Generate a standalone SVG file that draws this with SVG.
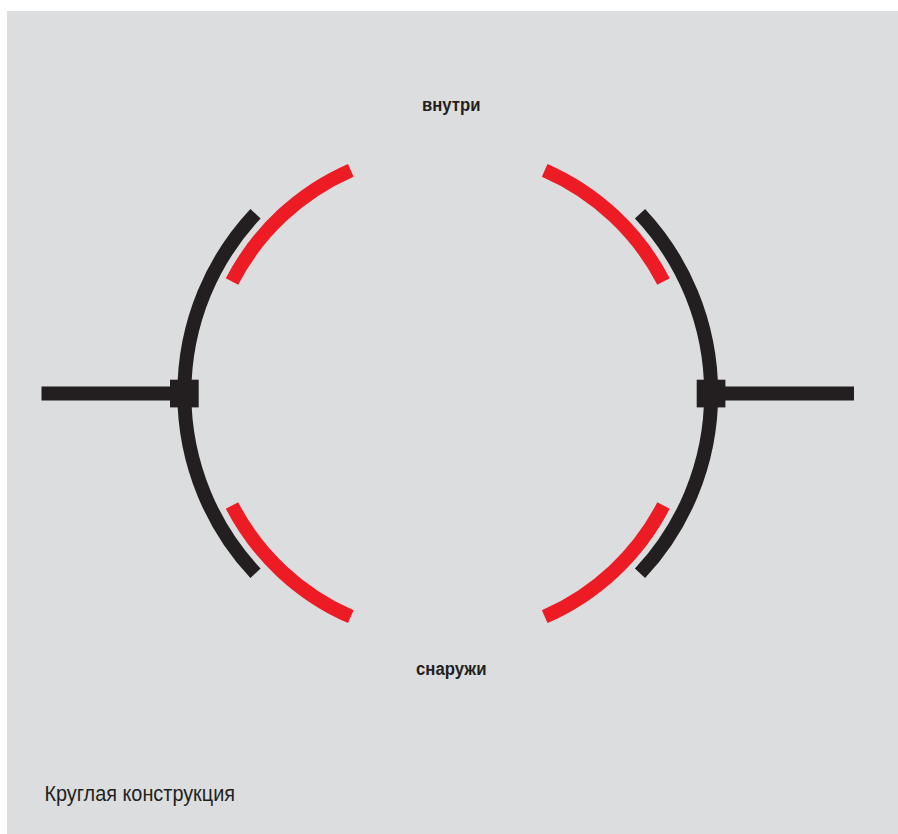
<svg xmlns="http://www.w3.org/2000/svg" width="898" height="834" viewBox="0 0 898 834">
<style>
.blk{fill:none;stroke:#231f20;stroke-width:14}
.red{fill:none;stroke:#ed1c24;stroke-width:14}
.sq{fill:#231f20}
text{font-family:"Liberation Sans",Arial,sans-serif;fill:#231f20}
.lb{font-size:18px;font-weight:bold}
.cap{font-size:22px}
</style>
<rect width="898" height="834" fill="#ffffff"/>
<rect x="7" y="11" width="891" height="823" fill="#dcdddf"/>
<g id="connectors">
<path id="black-left" class="blk" d="M255.500 213.700A262.700 262.700 0 0 0 255.500 573.300"/>
<path id="black-right" class="blk" d="M640 213.700A262.700 262.700 0 0 1 640 573.300"/>
<path id="red-tl" class="red" d="M350.800 170.300A243.300 243.300 0 0 0 232 281.500"/>
<path id="red-tr" class="red" d="M544.700 170.300A243.300 243.300 0 0 1 663.500 281.500"/>
<path id="red-bl" class="red" d="M232 505.500A243.300 243.300 0 0 0 350.800 616.700"/>
<path id="red-br" class="red" d="M663.500 505.500A243.300 243.300 0 0 1 544.700 616.700"/>
<path id="bar-left" class="blk" d="M41.500 393.500H171"/>
<path id="bar-right" class="blk" d="M724 393.500H854"/>
</g>
<g id="node-left"><rect class="sq" x="170" y="379.700" width="28.700" height="27.700"/></g>
<g id="node-right"><rect class="sq" x="696.700" y="379.700" width="28.700" height="27.700"/></g>
<g id="label-inside"><text class="lb" x="422" y="111" textLength="58.500" lengthAdjust="spacingAndGlyphs">внутри</text></g>
<g id="label-outside"><text class="lb" x="416" y="675" textLength="70.500" lengthAdjust="spacingAndGlyphs">снаружи</text></g>
<g id="caption"><text class="cap" x="44.500" y="801" textLength="190.500" lengthAdjust="spacingAndGlyphs">Круглая конструкция</text></g>
</svg>
